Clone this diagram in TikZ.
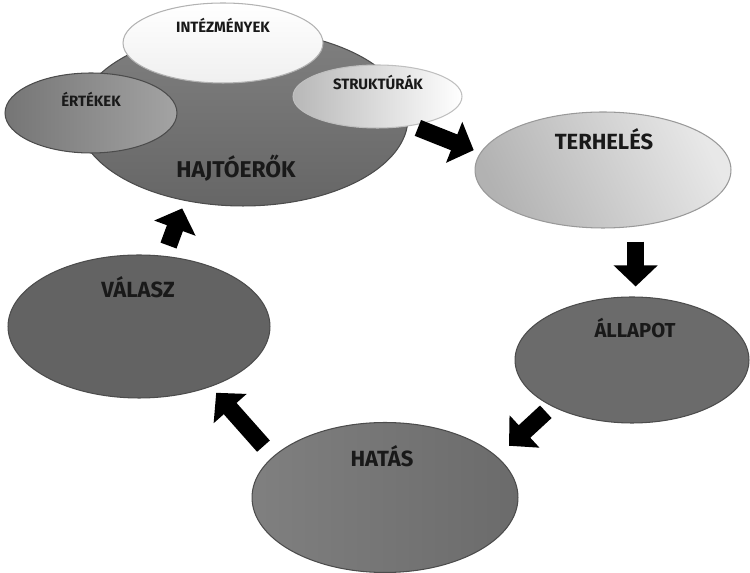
\documentclass[tikz,border=0pt]{standalone}
\usepackage{fontspec}
\setmainfont{Fira Sans}
\usetikzlibrary{shapes.geometric,arrows.meta}

\begin{document}
\begin{tikzpicture}[x=0.02cm,y=-0.02cm,
    blob/.style={ellipse,draw=black!70,line width=0.6pt,inner sep=0pt},
    lbl/.style={anchor=base,text=black!90,font=\bfseries\fontsize{12.5}{14}\selectfont},
    sml/.style={anchor=base,text=black!90,font=\bfseries\fontsize{8.5}{10}\selectfont},
    fat/.style={line width=9.7pt,-{Triangle[width=24.4pt,length=12pt]}}]
        \useasboundingbox (0,0) rectangle (750,573) ;
        % hajtoerok and its three parts
        \node[blob,top color=black!50,bottom color=black!60,
          minimum width=6.6cm,minimum height=3.52cm] (hajt) at (243,118) {} ;
        \node[blob,draw=black!30,top color=white,bottom color=black!6,
          minimum width=4cm,minimum height=1.6cm] (intez) at (223,43) {} ;
        \node[blob,left color=black!54,right color=black!36,
          minimum width=3.44cm,minimum height=1.6cm] (ertek) at (91,113) {} ;
        \node[blob,draw=black!25,left color=black!28,right color=white,
          minimum width=3.38cm,minimum height=1.26cm] (struk) at (377.5,96.5) {} ;
        \node[lbl,font=\bfseries\fontsize{13}{15}\selectfont] (hajt-t) at (236,178) {HAJTÓERŐK} ;
        \node[sml] (intez-t) at (223,33) {INTÉZMÉNYEK} ;
        \node[sml] (ertek-t) at (91,107) {ÉRTÉKEK} ;
        \node[sml] (struk-t) at (378,90) {STRUKTÚRÁK} ;
        % the cycle
        \node[blob,draw=black!40,left color=black!30,right color=black!9,shading angle=115,
          minimum width=5.12cm,minimum height=2.32cm] (terh) at (603,170) {} ;
        \node[blob,fill=black!58,minimum width=4.68cm,minimum height=2.52cm] (allapot) at (632,360) {} ;
        \node[blob,left color=black!50,right color=black!58,
          minimum width=5.32cm,minimum height=3cm] (hatas) at (385,497.5) {} ;
        \node[blob,fill=black!61,minimum width=5.24cm,minimum height=2.86cm] (valasz) at (139,326.5) {} ;
        \node[lbl] (terh-t) at (604,150) {TERHELÉS} ;
        \node[lbl,font=\bfseries\fontsize{11.5}{13}\selectfont] (allapot-t) at (635,338) {ÁLLAPOT} ;
        \node[lbl] (hatas-t) at (382,467) {HATÁS} ;
        \node[lbl] (valasz-t) at (138,298) {VÁLASZ} ;
        % arrows
        \draw[fat,shorten <=0.12cm,shorten >=0.14cm] (struk.-40) -- (terh.172) ;
        \draw[fat,shorten <=0.3cm,shorten >=0.2cm] (terh.-60) -- (terh.-60 |- allapot.north) ;
        \draw[fat,shorten <=0.16cm,shorten >=0.32cm] (allapot.-150) -- (hatas.20) ;
        \draw[fat,shorten <=0.28cm,shorten >=0.16cm] (hatas.160) -- (valasz.-40) ;
        \draw[fat,shorten <=0.22cm,shorten >=0.16cm] (valasz.70) -- (hajt.-125) ;
      \end{tikzpicture}
\end{document}
